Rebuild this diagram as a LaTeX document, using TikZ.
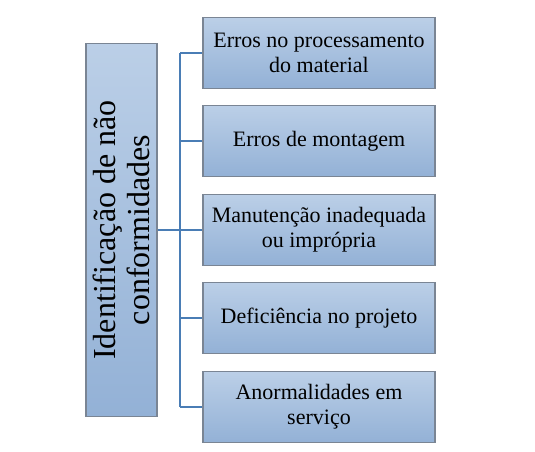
\documentclass[tikz,border=0pt]{standalone}
\usepackage{fontspec}
\setmainfont{Liberation Serif}
\definecolor{caixatopo}{HTML}{BBCFE7}
\definecolor{caixabase}{HTML}{93B1D6}
\definecolor{borda}{HTML}{7A8594}
\definecolor{ligacao}{HTML}{4A7DB5}
\tikzset{
	caixa/.style={draw=borda, line width=1.4pt, top color=caixatopo, bottom color=caixabase, align=center, font=\fontsize{22}{25}\selectfont, inner sep=2pt},
	ligar/.style={draw=ligacao, line width=2pt}
}
\begin{document}
\begin{tikzpicture}[x=1pt, y=-1pt]
		\useasboundingbox (0,0) rectangle (535,451);

		\node[caixa, rotate=90, minimum width=373pt, minimum height=71pt, font=\fontsize{32}{34}\selectfont] (ident) at (121.5,230) {Identificação de não\\conformidades};

		\node[caixa, minimum width=232pt, minimum height=71pt] (processo) at (319,53) {Erros no processamento\\do material};
		\node[caixa, minimum width=232pt, minimum height=71pt] (montagem) at (319,141) {Erros de montagem};
		\node[caixa, minimum width=232pt, minimum height=71pt] (manut) at (319,230) {Manutenção inadequada\\ou imprópria};
		\node[caixa, minimum width=232pt, minimum height=71pt] (projeto) at (319,318) {Deficiência no projeto};
		\node[caixa, minimum width=232pt, minimum height=71pt] (anorm) at (319,407) {Anormalidades em\\serviço};

		\coordinate (tronco) at (180,230);

		\draw[ligar] (ident.south) -- (tronco);
		\draw[ligar] (tronco |- processo.west) -- (tronco |- anorm.west);
		\foreach \n in {processo, montagem, manut, projeto, anorm}
			\draw[ligar] (tronco |- \n.west) -- (\n.west);
	\end{tikzpicture}
\end{document}
